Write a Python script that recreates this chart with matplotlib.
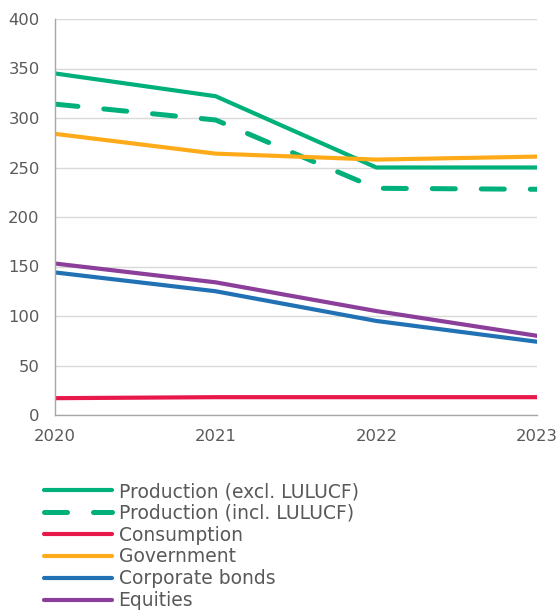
import matplotlib
matplotlib.use("Agg")
import matplotlib.pyplot as plt

# Emissions by category, 2020-2023
years = [2020, 2021, 2022, 2023]
production_excl = [345, 322, 250, 250]
production_incl = [314, 298, 229, 228]
consumption = [17, 18, 18, 18]
government = [284, 264, 258, 261]
corporate_bonds = [144, 125, 95, 74]
equities = [153, 134, 105, 80]

GREEN = "#00b07a"
RED = "#e8194a"
ORANGE = "#ffab19"
BLUE = "#2171b5"
PURPLE = "#8c3f9a"
TEXT = "#595959"

fig = plt.figure(figsize=(5.58, 6.15), dpi=100)
ax = fig.add_axes([55 / 558, 1 - 415 / 615, (537 - 55) / 558, (415 - 19) / 615])

lw = 3
ax.plot(years, production_excl, color=GREEN, lw=lw, label="Production (excl. LULUCF)",
        solid_capstyle="round")
ax.plot(years, production_incl, color=GREEN, lw=3.6, dashes=(4.6, 5.2),
        dash_capstyle="round", label="Production (incl. LULUCF)")
ax.plot(years, consumption, color=RED, lw=lw, label="Consumption", solid_capstyle="round")
ax.plot(years, government, color=ORANGE, lw=lw, label="Government", solid_capstyle="round")
ax.plot(years, corporate_bonds, color=BLUE, lw=lw, label="Corporate bonds", solid_capstyle="round")
ax.plot(years, equities, color=PURPLE, lw=lw, label="Equities", solid_capstyle="round")

ax.set_xlim(2020, 2023)
ax.set_ylim(0, 400)
ax.set_xticks(years)
ax.set_yticks(range(0, 401, 50))
ax.tick_params(axis="both", length=0, labelsize=11.8, labelcolor=TEXT)
ax.tick_params(axis="x", pad=10)
ax.tick_params(axis="y", pad=11)
ax.grid(axis="y", color="#d9d9d9", lw=1)
ax.set_axisbelow(True)
for side in ["top", "right"]:
    ax.spines[side].set_visible(False)
for side in ["left", "bottom"]:
    ax.spines[side].set_color("#a6a6a6")
    ax.spines[side].set_linewidth(1)

fig.legend(loc="upper left", bbox_to_anchor=(44 / 558, 1 - 482 / 615), frameon=False,
           fontsize=13.5, labelcolor=TEXT, handlelength=3.6, handletextpad=0.38,
           labelspacing=0.15, borderpad=0, borderaxespad=0)

fig.savefig("out.png", dpi=100)
